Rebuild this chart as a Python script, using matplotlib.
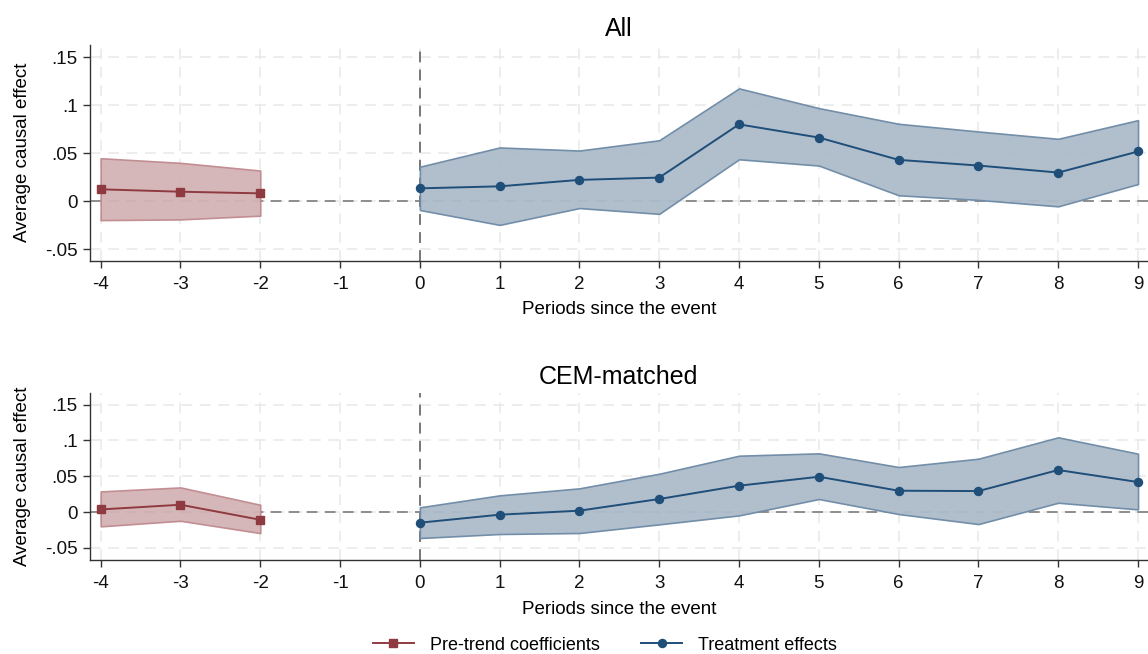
import matplotlib
matplotlib.use("Agg")
import matplotlib.pyplot as plt
from matplotlib.ticker import FixedLocator, FixedFormatter

plt.rcParams['font.family'] = ['Liberation Sans', 'DejaVu Sans']

# ---- data ----
pre_x = [-4, -3, -2]
treat_x = [0, 1, 2, 3, 4, 5, 6, 7, 8, 9]

# Panel "All"
all_pre = [0.0125, 0.0100, 0.0083]
all_pre_hi = [0.0448, 0.0400, 0.0320]
all_pre_lo = [-0.0195, -0.0188, -0.0149]
all_te = [0.0135, 0.0156, 0.0223, 0.0247, 0.0800, 0.0663, 0.0431, 0.0372, 0.0299, 0.0518]
all_te_hi = [0.0360, 0.0560, 0.0528, 0.0635, 0.1174, 0.0969, 0.0806, 0.0726, 0.0650, 0.0844]
all_te_lo = [-0.0090, -0.0245, -0.0070, -0.0130, 0.0437, 0.0372, 0.0063, 0.0015, -0.0052, 0.0180]

# Panel "CEM-matched"
cem_pre = [0.0036, 0.0102, -0.0108]
cem_pre_hi = [0.0288, 0.0344, 0.0102]
cem_pre_lo = [-0.0200, -0.0122, -0.0294]
cem_te = [-0.0149, -0.0037, 0.0019, 0.0182, 0.0368, 0.0493, 0.0298, 0.0293, 0.0587, 0.0419]
cem_te_hi = [0.0066, 0.0233, 0.0331, 0.0535, 0.0787, 0.0820, 0.0629, 0.0745, 0.1044, 0.0815]
cem_te_lo = [-0.0363, -0.0307, -0.0293, -0.0172, -0.0047, 0.0182, -0.0028, -0.0168, 0.0130, 0.0037]

xticks = [-4, -3, -2, -1, 0, 1, 2, 3, 4, 5, 6, 7, 8, 9]
yticks = [-0.05, 0, 0.05, 0.1, 0.15]
ytick_labels = ["-.05", "0", ".05", ".1", ".15"]

titles = ["All", "CEM-matched"]
xlabel = "Periods since the event"
ylabel = "Average causal effect"
legend_labels = ["Pre-trend coefficients", "Treatment effects"]

RED = "#8f3a40"
RED_FILL = "#d4b3b6"
BLUE = "#1f4e79"
BLUE_FILL = "#adbccb"
BLUE_EDGE = "#6d8aa6"
RED_EDGE = "#c08a8f"

W, H = 1148, 654
fig = plt.figure(figsize=(W / 100, H / 100), dpi=100)

def ax_rect(left, top, right, bottom):
    return [left / W, 1 - bottom / H, (right - left) / W, (bottom - top) / H]

panels = [
    (ax_rect(89.5, 45, 1148, 260.5), (-0.0615, 0.1625),
     all_pre, all_pre_hi, all_pre_lo, all_te, all_te_hi, all_te_lo),
    (ax_rect(89.5, 393, 1148, 560), (-0.067, 0.1663),
     cem_pre, cem_pre_hi, cem_pre_lo, cem_te, cem_te_hi, cem_te_lo),
]

FS = 13.5
handles = None
for i, (rect, ylim, pre, pre_hi, pre_lo, te, te_hi, te_lo) in enumerate(panels):
    ax = fig.add_axes(rect)
    ax.set_xlim(-4.14, 9.125)
    ax.set_ylim(*ylim)
    # grid
    for xv in xticks:
        ax.axvline(xv, color="#e8e8e8", lw=1.1, ls=(0, (7, 5)), zorder=0)
    for yv in yticks:
        ax.axhline(yv, color="#e8e8e8", lw=1.1, ls=(0, (7, 5)), zorder=0)
    ax.axhline(0, color="#858585", lw=1.3, ls=(0, (6, 4)), zorder=1)
    ax.axvline(0, color="#6e6e6e", lw=1.3, ls=(0, (6, 4)), zorder=1)

    ax.fill_between(pre_x, pre_lo, pre_hi, facecolor=RED_FILL, edgecolor=RED_EDGE,
                    lw=1.2, zorder=2, alpha=0.95)
    ax.fill_between(treat_x, te_lo, te_hi, facecolor=BLUE_FILL, edgecolor=BLUE_EDGE,
                    lw=1.2, zorder=2, alpha=0.95)
    h1, = ax.plot(pre_x, pre, color=RED, marker="s", ms=5.8, lw=1.4, zorder=4)
    h2, = ax.plot(treat_x, te, color=BLUE, marker="o", ms=5.8, lw=1.4, zorder=4)
    handles = [h1, h2]

    ax.xaxis.set_major_locator(FixedLocator(xticks))
    ax.set_xticklabels([str(v) for v in xticks])
    ax.yaxis.set_major_locator(FixedLocator(yticks))
    ax.yaxis.set_major_formatter(FixedFormatter(ytick_labels))
    ax.tick_params(axis="both", direction="out", length=5, width=1, labelsize=FS,
                   color="#333333", labelcolor="#111111")
    ax.tick_params(axis="x", pad=6)
    ax.tick_params(axis="y", pad=3.5)
    for s in ["top", "right"]:
        ax.spines[s].set_visible(False)
    for s in ["left", "bottom"]:
        ax.spines[s].set_color("#333333")
        ax.spines[s].set_linewidth(1.0)
    ax.set_title(titles[i], fontsize=18, pad=6.5)
    ax.set_xlabel(xlabel, fontsize=FS, labelpad=6)
    ax.set_ylabel(ylabel, fontsize=FS, labelpad=10)

fig.legend(handles, legend_labels, loc="center", bbox_to_anchor=(605 / W, 1 - 645 / H),
           ncol=2, frameon=False, fontsize=13, handlelength=2.25, handletextpad=0.9,
           columnspacing=2.3)

fig.savefig("out.png", dpi=100, facecolor="white")
